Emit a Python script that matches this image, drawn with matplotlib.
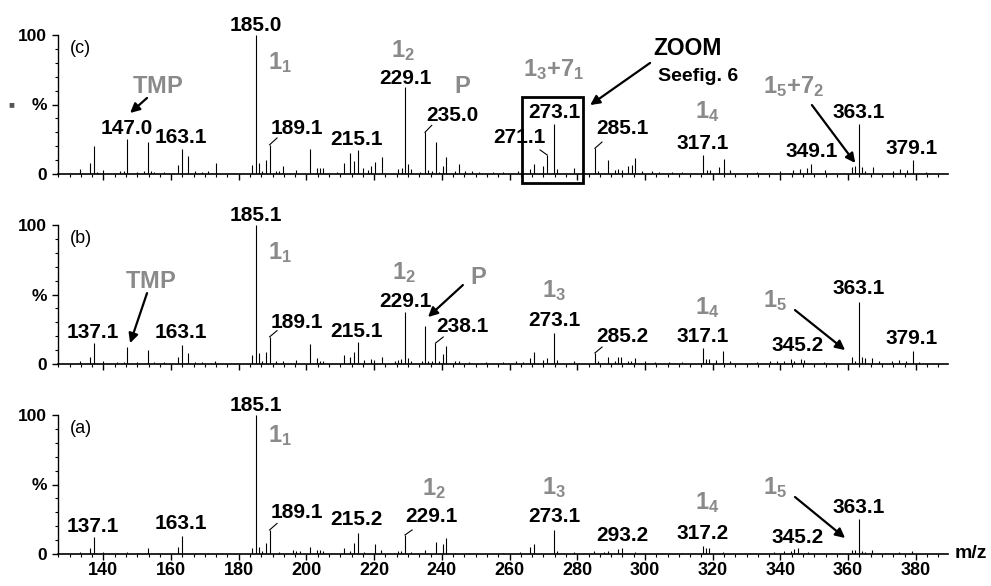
import matplotlib
matplotlib.use("Agg")
import matplotlib.pyplot as plt
from matplotlib.patches import Rectangle
from matplotlib.ticker import MultipleLocator

plt.rcParams["font.family"] = ["Liberation Sans", "DejaVu Sans"]
plt.rcParams["font.weight"] = "bold"
plt.rcParams["mathtext.fontset"] = "custom"
plt.rcParams["mathtext.bf"] = "Liberation Sans:bold"
plt.rcParams["mathtext.rm"] = "Liberation Sans:bold"
plt.rcParams["mathtext.it"] = "Liberation Sans:bold"

# ---- spectrum (c) ----
mz_c = [133.1, 136.1, 137.1, 138.0, 140.0, 145.0, 146.0, 147.0, 150.0, 152.0,
        153.1, 154.0, 155.0, 158.0, 162.1, 163.1, 165.1, 167.0, 169.0, 171.0,
        173.2, 184.0, 185.0, 186.0, 187.0, 188.0, 189.1, 191.0, 192.0, 193.1,
        197.0, 201.1, 203.0, 204.0, 205.0, 209.0, 211.0, 213.0, 214.0, 215.1,
        216.8, 218.3, 219.0, 220.1, 222.2, 227.1, 228.1, 229.1, 230.0, 231.0,
        233.5, 235.0, 236.0, 237.0, 238.2, 239.2, 240.2, 241.1, 243.9, 245.1,
        246.8, 248.8, 251.0, 255.0, 258.0, 262.6, 266.0, 267.2, 270.0, 271.1,
        273.1, 274.0, 279.0, 285.2, 286.0, 289.2, 291.2, 292.1, 293.1, 295.1,
        296.1, 297.1, 299.1, 302.0, 304.0, 308.0, 311.0, 317.1, 318.2, 319.2,
        322.0, 323.2, 325.1, 333.0, 340.0, 343.8, 345.8, 347.8, 349.1, 353.2,
        361.0, 362.0, 363.1, 364.0, 365.0, 367.2, 373.4, 375.4, 377.3, 379.1,
        383.0]
int_c = [3.8, 7.7, 20.4, 1.4, 3.0, 2.0, 2.0, 25.0, 1.5, 2.0,
         22.8, 2.0, 1.5, 1.5, 6.5, 18.0, 13.2, 2.0, 1.5, 2.5,
         7.7, 6.5, 100, 7.7, 2.4, 10.0, 21.0, 2.5, 2.5, 5.7,
         3.0, 17.7, 4.0, 4.5, 4.0, 1.5, 7.7, 14.9, 9.6, 17.3,
         4.0, 3.0, 5.7, 8.4, 12.5, 3.5, 4.5, 62.6, 7.2, 3.4,
         1.5, 30.0, 3.0, 2.5, 23.3, 1.5, 5.7, 12.5, 2.0, 7.2,
         2.5, 2.0, 1.5, 1.5, 1.5, 2.0, 3.4, 7.0, 5.7, 13.7,
         36.0, 3.4, 4.0, 18.5, 2.0, 10.0, 3.0, 3.5, 3.0, 5.7,
         6.5, 11.3, 2.5, 2.0, 1.5, 1.5, 1.5, 13.7, 3.0, 3.0,
         5.3, 10.8, 3.0, 1.5, 2.0, 3.0, 3.5, 4.0, 7.2, 3.0,
         4.8, 5.7, 36.0, 5.3, 2.5, 4.8, 2.5, 3.5, 3.0, 10.0,
         1.5]

# ---- spectrum (b) ----
mz_b = [133.0, 136.1, 137.1, 140.0, 144.0, 146.0, 147.0, 150.0, 153.1, 155.0,
        158.0, 162.1, 163.1, 165.1, 167.0, 169.0, 173.0, 184.0, 185.1, 186.0,
        187.0, 188.0, 189.1, 191.0, 193.0, 197.0, 201.1, 203.0, 204.0, 205.0,
        211.0, 213.0, 214.0, 215.1, 217.0, 219.0, 220.0, 222.2, 226.0, 227.0,
        228.0, 229.1, 230.0, 231.0, 234.0, 235.0, 236.0, 237.0, 238.1, 239.2,
        240.2, 241.1, 244.0, 245.0, 248.0, 253.0, 258.0, 262.0, 264.0, 266.0,
        267.2, 270.0, 271.1, 273.1, 274.0, 279.0, 285.2, 286.0, 289.2, 291.0,
        292.0, 293.0, 295.0, 296.0, 297.0, 300.0, 303.0, 307.0, 311.0, 317.1,
        318.0, 319.0, 321.0, 323.1, 325.0, 333.0, 337.0, 339.0, 341.0, 343.0,
        344.0, 346.0, 347.0, 353.0, 361.0, 362.0, 363.1, 364.0, 365.0, 367.0,
        369.0, 373.0, 375.0, 377.0, 379.1, 381.0]
int_b = [2.0, 4.8, 14.9, 2.0, 1.5, 1.5, 12.0, 1.5, 10.0, 1.5,
         1.5, 5.3, 14.0, 7.7, 1.5, 1.5, 2.0, 6.5, 100, 8.2,
         2.4, 8.6, 19.5, 2.0, 2.5, 3.0, 14.4, 4.0, 2.5, 2.0,
         6.2, 5.3, 8.4, 15.6, 3.0, 3.5, 3.0, 5.3, 2.5, 3.0,
         3.5, 37.4, 4.0, 2.5, 2.5, 27.3, 2.5, 2.0, 15.0, 2.0,
         7.2, 13.0, 2.0, 2.5, 1.5, 1.5, 1.5, 2.0, 1.5, 4.0,
         8.4, 3.0, 4.0, 22.3, 3.0, 2.5, 7.9, 2.0, 5.3, 2.5,
         5.3, 5.3, 2.0, 2.0, 4.0, 2.0, 1.5, 1.5, 1.5, 11.8,
         3.4, 3.4, 3.0, 9.6, 2.5, 1.5, 2.0, 2.5, 2.5, 3.5,
         2.5, 3.5, 3.0, 1.5, 4.8, 2.5, 44.6, 5.3, 4.0, 4.0,
         2.0, 2.5, 3.0, 2.5, 9.4, 1.5]

# ---- spectrum (a) ----
mz_a = [133.0, 136.1, 137.1, 140.0, 144.0, 147.0, 150.0, 153.1, 156.0, 162.1,
        163.1, 167.0, 171.0, 175.0, 184.0, 185.1, 186.0, 187.0, 188.0, 189.1,
        192.0, 196.0, 197.0, 198.0, 201.1, 203.0, 204.0, 205.0, 211.0, 213.0,
        214.0, 215.2, 217.0, 220.1, 222.0, 227.0, 228.0, 229.1, 231.0, 235.0,
        238.2, 240.2, 241.1, 244.0, 248.0, 258.0, 263.0, 266.0, 267.2, 273.1,
        274.0, 279.0, 285.0, 288.0, 289.0, 292.0, 293.2, 297.0, 305.0, 311.0,
        317.2, 318.0, 319.0, 323.0, 331.0, 338.0, 341.0, 343.0, 344.0, 345.2,
        348.0, 361.0, 362.0, 363.1, 364.0, 365.0, 367.0, 371.0, 375.0, 379.0]
int_a = [1.5, 4.0, 12.0, 1.5, 1.0, 1.5, 1.0, 4.0, 1.0, 5.3,
         13.2, 1.0, 1.0, 1.0, 4.0, 100, 4.8, 2.0, 7.7, 17.3,
         1.5, 3.0, 2.5, 2.0, 5.3, 3.0, 3.0, 2.5, 4.0, 2.0,
         8.2, 14.9, 1.5, 7.0, 3.0, 2.0, 2.0, 13.7, 1.5, 3.0,
         8.9, 7.0, 11.3, 1.0, 1.0, 1.0, 1.5, 4.8, 7.2, 17.3,
         2.0, 1.5, 2.5, 1.5, 2.0, 3.4, 4.0, 1.5, 1.0, 1.0,
         5.7, 4.0, 4.0, 1.5, 1.0, 1.5, 2.0, 2.5, 3.4, 4.0,
         1.5, 3.0, 3.0, 25.0, 2.0, 1.5, 3.0, 1.0, 1.5, 2.0]

x_ticks = [140, 160, 180, 200, 220, 240, 260, 280, 300, 320, 340, 360, 380]

XMIN, XMAX = 126.6, 389.5
GREY = "#8a8a8a"
W, H = 991, 586


def frag(s):
    return r"$\mathbf{" + s + "}$"


def setup(ax, mz, inten, tag, bottom):
    ax.vlines(mz, 0, inten, color="k", lw=0.8)
    ax.set_xlim(XMIN, XMAX)
    ax.set_ylim(0, 100)
    for s in ("top", "right"):
        ax.spines[s].set_visible(False)
    ax.spines["left"].set_linewidth(1.0)
    ax.spines["bottom"].set_linewidth(1.2)
    ax.set_yticks([0, 50, 100])
    ax.set_yticklabels(["0", "%", "100"])
    ax.yaxis.set_minor_locator(MultipleLocator(10))
    ax.tick_params(axis="y", which="major", direction="out", length=4,
                   width=1, labelsize=12.5, pad=4)
    ax.tick_params(axis="y", which="minor", direction="out", length=2.5, width=0.8)
    ax.set_xticks(x_ticks)
    ax.xaxis.set_minor_locator(MultipleLocator(20 / 6))
    ax.tick_params(axis="x", which="major", direction="out", length=4,
                   width=1, labelsize=13, pad=2, labelbottom=bottom)
    ax.tick_params(axis="x", which="minor", direction="out", length=2.5, width=0.8)
    ax.text(130.1, 90.6, tag, fontsize=13, weight="normal", ha="left", va="center")


def peak(ax, s, x, y):
    ax.text(x, y, s, fontsize=15, ha="center", va="center")


def grey(ax, s, x, y):
    ax.text(x, y, frag(s), fontsize=17, color=GREY, ha="center", va="center")


def conn(ax, x0, y0, x1, y1):
    ax.plot([x0, x1], [y0, y1], color="k", lw=0.8, clip_on=False)


def arrow(ax, x0, y0, x1, y1):
    ax.annotate("", xy=(x1, y1), xytext=(x0, y0), annotation_clip=False,
                arrowprops=dict(arrowstyle="-|>", color="k", lw=1.6,
                                mutation_scale=14, shrinkA=0, shrinkB=0))


fig = plt.figure(figsize=(W / 100, H / 100), dpi=100)
left = 58 / W
width = (948 - 58) / W
ax_c = fig.add_axes([left, (H - 174) / H, width, 139 / H])
ax_b = fig.add_axes([left, (H - 364) / H, width, 139 / H])
ax_a = fig.add_axes([left, (H - 554) / H, width, 139 / H])

# (c)
ax = ax_c
setup(ax, mz_c, int_c, "(c)", False)
ax.text(-0.052, 0.5, "■", transform=ax.transAxes, fontsize=7, color="#555555",
        ha="center", va="center")
peak(ax, "185.0", 185.0, 107)
grey(ax, "1_1", 192.2, 80)
grey(ax, "TMP", 155.9, 63)
arrow(ax, 152.9, 54.7, 147.9, 43.9)
peak(ax, "147.0", 147.0, 32.4)
peak(ax, "163.1", 162.9, 26.6)
peak(ax, "189.1", 197.2, 32.4)
conn(ax, 189.1, 21.0, 191.3, 25.9)
peak(ax, "215.1", 214.9, 25)
grey(ax, "1_2", 228.5, 89)
peak(ax, "229.1", 229.1, 69)
grey(ax, "P", 246.0, 63)
peak(ax, "235.0", 243.0, 42.4)
conn(ax, 235.0, 30.0, 237.0, 35.0)
grey(ax, "1_3{+}7_1", 273.1, 75.5)
peak(ax, "273.1", 273.1, 43.9)
peak(ax, "271.1", 262.8, 25.9)
conn(ax, 269.0, 17.3, 271.1, 13.7)
ax.add_patch(Rectangle((263.7, -6.5), 18.0, 61.9, fill=False, ec="k", lw=2.0,
                       clip_on=False, zorder=5))
ax.text(312.7, 90, "ZOOM", fontsize=16.5, ha="center", va="center")
ax.text(315.7, 70.5, "Seefig. 6", fontsize=14, ha="center", va="center")
arrow(ax, 301.5, 79.9, 283.8, 49.6)
peak(ax, "285.1", 293.4, 32.4)
conn(ax, 285.2, 18.5, 287.3, 23.0)
grey(ax, "1_4", 318.3, 44.6)
peak(ax, "317.1", 316.9, 21.6)
grey(ax, "1_5{+}7_2", 344.0, 62.6)
arrow(ax, 349.3, 49.6, 362.1, 7.9)
peak(ax, "363.1", 363.1, 44.6)
peak(ax, "349.1", 349.1, 16.5)
peak(ax, "379.1", 378.9, 18.7)

# (b)
ax = ax_b
setup(ax, mz_b, int_b, "(b)", False)
peak(ax, "185.1", 185.1, 107)
grey(ax, "1_1", 192.2, 80.5)
grey(ax, "TMP", 153.8, 59.7)
arrow(ax, 152.9, 51, 147.9, 15)
peak(ax, "137.1", 136.9, 23)
peak(ax, "163.1", 162.9, 23)
peak(ax, "189.1", 197.2, 30)
conn(ax, 189.1, 19.5, 191.3, 24)
peak(ax, "215.1", 214.9, 23.7)
grey(ax, "1_2", 228.8, 66)
peak(ax, "229.1", 229.1, 45.3)
grey(ax, "P", 250.7, 62)
arrow(ax, 246.2, 56.8, 235.9, 33.8)
peak(ax, "238.1", 246.0, 27.3)
conn(ax, 238.1, 15, 240.4, 19.4)
grey(ax, "1_3", 273.1, 52.5)
peak(ax, "273.1", 273.1, 31)
peak(ax, "285.2", 293.4, 20)
conn(ax, 285.2, 7.9, 287.3, 12.2)
grey(ax, "1_4", 318.3, 40.6)
peak(ax, "317.1", 316.9, 20)
grey(ax, "1_5", 338.4, 46)
arrow(ax, 344.3, 38.8, 359.1, 10)
peak(ax, "363.1", 363.1, 54)
peak(ax, "345.2", 345.2, 13)
peak(ax, "379.1", 378.9, 18)

# (a)
ax = ax_a
setup(ax, mz_a, int_a, "(a)", True)
peak(ax, "185.1", 185.1, 107)
grey(ax, "1_1", 192.2, 85)
peak(ax, "137.1", 136.9, 20)
peak(ax, "163.1", 162.9, 21.6)
peak(ax, "189.1", 197.2, 30)
conn(ax, 189.1, 17.3, 191.3, 22)
peak(ax, "215.2", 214.9, 24.5)
grey(ax, "1_2", 237.7, 47)
peak(ax, "229.1", 236.8, 27.3)
conn(ax, 229.1, 13.7, 231.2, 17.3)
grey(ax, "1_3", 273.1, 47.5)
peak(ax, "273.1", 273.1, 27.3)
peak(ax, "293.2", 293.4, 13)
grey(ax, "1_4", 318.3, 36.7)
peak(ax, "317.2", 316.9, 14.4)
grey(ax, "1_5", 338.4, 48)
arrow(ax, 344.3, 41, 359.1, 11.5)
peak(ax, "363.1", 363.1, 33.5)
peak(ax, "345.2", 345.2, 12)
ax.text(1.008, 0, "m/z", transform=ax.transAxes, fontsize=14,
        ha="left", va="center")

fig.savefig("out.png", dpi=100)
